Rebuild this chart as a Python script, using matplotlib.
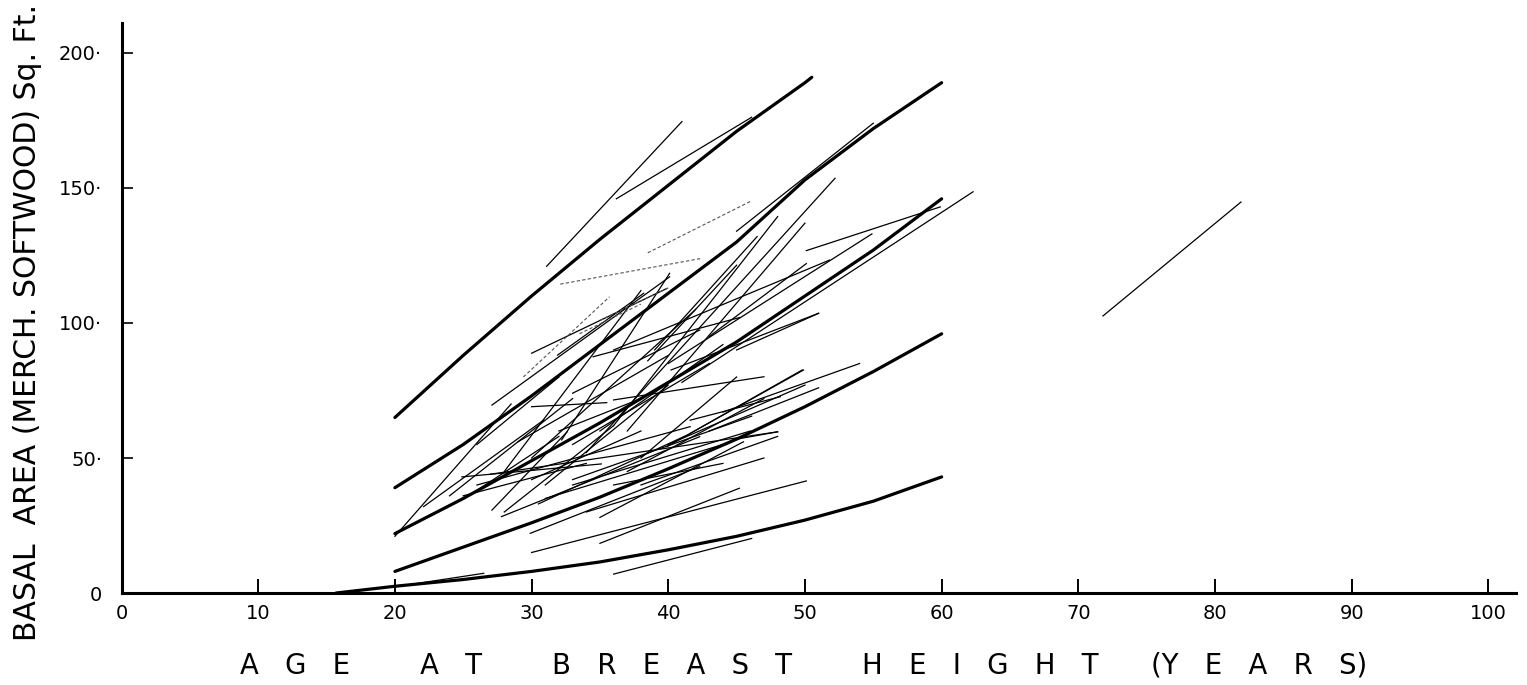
import numpy as np
import matplotlib.pyplot as plt

# =============================================================================
# Data
# =============================================================================
# heavy guide curves: age (years) vs basal area (sq. ft.)
curve_ages = [
    [20, 25, 30, 35, 40, 45, 50, 50.5],
    [20, 25, 30, 35, 40, 45, 50, 55, 60],
    [20, 25, 30, 35, 40, 45, 50, 55, 60],
    [20, 25, 30, 35, 40, 45, 50, 55, 60],
    [15.7, 20, 25, 30, 35, 40, 45, 50, 55, 60],
]
curve_ba = [
    [65, 88, 110, 131, 151, 171, 189, 191],
    [39, 55, 73, 92, 111, 130, 153, 172, 189],
    [22, 35, 49, 63, 78, 93, 110, 127, 146],
    [8, 17, 26, 35.5, 46, 57, 69, 82, 96],
    [0, 2.5, 5, 8, 11.5, 16, 21, 27, 34, 43],
]

# individual plot remeasurements (start age, start BA, end age, end BA)
plot_age0 = [31.1, 36.2, 45.0, 50.1, 41.0, 40.0, 34.0, 37.0, 36.0, 27.1,
             30.0, 31.9, 34.5, 45.0, 43.0, 32.2, 28.0, 30.0, 33.0, 30.0,
             36.0, 39.9, 40.2, 41.6, 41.6, 44.7, 24.9, 27.1, 27.8, 29.9,
             22.1, 20.0, 35.0, 30.0, 36.0, 20.0, 33.0, 31.0, 38.0, 25.0,
             26.0, 34.0, 71.8,
             35.0, 33.0, 30.5, 26.0, 27.0, 36.0, 38.5, 39.0, 38.0, 24.0,
             28.0, 31.0, 33.0, 29.0, 35.0, 37.0, 40.0, 43.0, 36.0, 32.0,
             26.0, 30.0, 44.0]
plot_ba0 = [121.0, 146.0, 134.0, 126.8, 78.0, 85.0, 52.0, 60.0, 62.0, 69.6,
            88.8, 88.1, 87.5, 90.0, 95.0, 56.7, 45.0, 50.0, 74.0, 69.0,
            71.5, 54.2, 82.6, 64.0, 59.1, 56.7, 43.0, 30.7, 28.3, 22.1,
            32.0, 21.0, 18.4, 15.0, 7.0, 2.3, 40.0, 35.0, 40.0, 36.0,
            38.0, 30.0, 102.6,
            28.0, 42.0, 33.0, 40.0, 44.0, 90.0, 86.0, 90.0, 50.0, 36.0,
            30.0, 40.0, 55.0, 56.0, 60.0, 45.0, 55.0, 60.0, 40.0, 60.0,
            55.0, 42.0, 67.0]
plot_age1 = [41.0, 46.1, 55.0, 59.9, 62.3, 54.9, 52.2, 50.0, 48.0, 40.1,
             39.9, 38.2, 45.2, 51.0, 50.1, 40.1, 38.0, 42.0, 42.3, 35.5,
             47.0, 49.8, 51.0, 48.2, 49.9, 48.0, 35.1, 32.6, 42.3, 42.3,
             30.9, 28.5, 45.2, 50.1, 46.1, 26.5, 46.0, 44.0, 48.0, 34.0,
             32.0, 47.0, 81.9,
             45.5, 46.1, 41.6, 41.6, 48.0, 51.8, 45.0, 46.5, 45.0, 33.0,
             36.0, 40.0, 43.0, 40.0, 44.0, 47.0, 50.0, 51.0, 44.0, 38.0,
             32.0, 38.0, 54.0]
plot_ba1 = [174.6, 176.2, 174.0, 143.0, 148.6, 133.0, 153.6, 137.0, 139.4, 117.1,
            112.8, 111.0, 102.0, 103.6, 122.0, 118.4, 112.0, 105.0, 97.4, 70.5,
            80.1, 82.6, 103.6, 72.7, 82.6, 59.7, 47.8, 59.7, 57.9, 46.8,
            64.1, 70.0, 38.8, 41.5, 20.2, 7.3, 60.0, 55.0, 58.0, 48.0,
            58.0, 50.0, 144.8,
            56.0, 65.5, 59.0, 61.6, 59.7, 123.3, 121.4, 132.0, 80.0, 72.0,
            62.0, 77.0, 85.0, 88.0, 92.0, 72.0, 77.0, 76.0, 48.0, 72.0,
            80.0, 60.0, 85.0]

# faint, broken lines in the original print
faint_age0 = [32.1, 38.5, 29.4, 33.5, 35.0]
faint_ba0 = [114.4, 126.0, 80.0, 96.0, 101.0]
faint_age1 = [42.5, 46.0, 35.7, 38.0, 40.0]
faint_ba1 = [124.0, 145.0, 109.7, 107.0, 113.0]

xticks = [0, 10, 20, 30, 40, 50, 60, 70, 80, 90, 100]
yticks = [0, 50, 100, 150, 200]
ytick_labels = ['0', '50·', '100·', '150·', '200·']

# =============================================================================
# Plot
# =============================================================================
fig = plt.figure(figsize=(15.27, 6.85), dpi=100)
ax = fig.add_axes([0.0796, 0.1343, 0.913, 0.8317])

for xs, ys in zip(curve_ages, curve_ba):
    ax.plot(xs, ys, color='black', lw=2.3, solid_capstyle='round')

for a0, b0, a1, b1 in zip(plot_age0, plot_ba0, plot_age1, plot_ba1):
    ax.plot([a0, a1], [b0, b1], color='black', lw=0.9)

for a0, b0, a1, b1 in zip(faint_age0, faint_ba0, faint_age1, faint_ba1):
    ax.plot([a0, a1], [b0, b1], color='#555555', lw=0.8, ls=(0, (3, 2)))

ax.set_xlim(0, 102)
ax.set_ylim(0, 211)
for s in ['top', 'right']:
    ax.spines[s].set_visible(False)
ax.spines['left'].set_linewidth(2.2)
ax.spines['bottom'].set_linewidth(2.2)

ax.set_xticks(xticks)
ax.set_xticklabels([str(t) for t in xticks])
ax.set_yticks(yticks)
ax.set_yticklabels(ytick_labels)
ax.tick_params(axis='x', direction='in', length=10, width=1.4, pad=8, labelsize=14)
ax.tick_params(axis='y', direction='in', length=8, width=1.2, pad=14, labelsize=14)

# axis titles
fig.text(0.0177, 0.53, 'BASAL  AREA (MERCH. SOFTWOOD) Sq. Ft.',
         fontsize=21.5, rotation=90, ha='center', va='center')
fig.text(0.5265, 0.0175,
         'A   G   E        A   T        B   R   E   A   S   T        '
         'H   E   I   G   H   T      (Y   E   A   R   S)',
         fontsize=19.8, ha='center', va='baseline')

fig.savefig('out.png', dpi=100)
